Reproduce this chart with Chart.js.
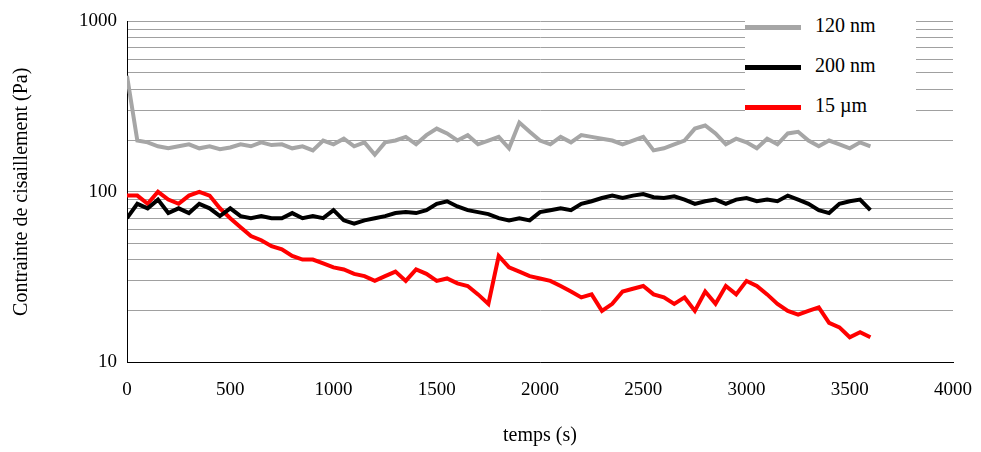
<!DOCTYPE html><html><head><script src="https://cdn.jsdelivr.net/npm/chart.js@4"></script>
<style>body{margin:0;background:#fff}#w{position:relative;width:981px;height:452px}
#lg{position:absolute;left:745px;top:5px;font:20px "Liberation Serif";line-height:40px;background:#fff;padding-right:40px}
#lg span{display:inline-block;width:56px;height:5px;vertical-align:middle;margin-right:14px}</style></head><body>
<div id="w"><canvas id="c" width="981" height="452"></canvas>
<div id="lg"><div><span style="background:#a6a6a6"></span>120 nm</div><div><span style="background:#000"></span>200 nm</div><div><span style="background:#ff0000"></span>15 µm</div></div></div>
<script>
const times=[];for(let t=0;t<=3600;t+=50)times.push(t);
const gray=[480,200,195,185,180,185,190,180,185,178,182,190,185,195,188,190,180,185,175,200,190,205,185,195,165,195,200,210,190,215,235,220,200,215,190,200,210,180,255,225,200,190,210,195,215,210,205,200,190,200,210,175,180,190,200,235,245,220,190,205,195,180,205,190,220,225,200,185,200,190,180,195,185];
const black=[70,85,80,90,75,80,75,85,80,72,80,72,70,72,70,70,75,70,72,70,78,68,65,68,70,72,75,76,75,78,85,88,82,78,76,74,70,68,70,68,76,78,80,78,85,88,92,95,92,95,97,93,92,94,90,85,88,90,85,90,92,88,90,88,95,90,85,78,75,85,88,90,78];
const red=[95,95,85,100,90,85,95,100,95,80,70,62,55,52,48,46,42,40,40,38,36,35,33,32,30,32,34,30,35,33,30,31,29,28,25,22,42,36,34,32,31,30,28,26,24,25,20,22,26,27,28,25,24,22,24,20,26,22,28,25,30,28,25,22,20,19,20,21,17,16,14,15,14];
const mk=(d,c)=>({data:d.map((v,i)=>({x:times[i],y:v})),borderColor:c,borderWidth:4,pointRadius:0,tension:0});
const F='"Liberation Serif"';
new Chart(document.getElementById('c'),{type:'line',data:{datasets:[mk(gray,'#a6a6a6'),mk(black,'#000'),mk(red,'#ff0000')]},
options:{responsive:false,animation:false,layout:{padding:{left:6,right:28,top:8,bottom:0}},plugins:{legend:{display:false}},
scales:{x:{type:'linear',min:0,max:4000,ticks:{stepSize:500,color:'#000',padding:8,font:{family:F,size:19},callback:v=>String(v)},grid:{display:false},border:{color:'#000'},
title:{display:true,text:'temps (s)',color:'#000',padding:{top:15},font:{family:F,size:20}}},
y:{type:'logarithmic',min:10,max:1000,afterBuildTicks:a=>{const t=[];for(const b of [10,100])for(let k=1;k<10;k++)t.push({value:b*k});t.push({value:1000});a.ticks=t;},
afterFit:a=>{a.width=121;},
ticks:{autoSkip:false,color:'#000',padding:10,font:{family:F,size:19},callback:v=>[10,100,1000].includes(v)?String(v):''},
grid:{color:'#a0a0a0',drawTicks:false},border:{color:'#000'},
title:{display:true,text:'Contrainte de cisaillement (Pa)',color:'#000',font:{family:F,size:20}}}}}});
</script></body></html>
